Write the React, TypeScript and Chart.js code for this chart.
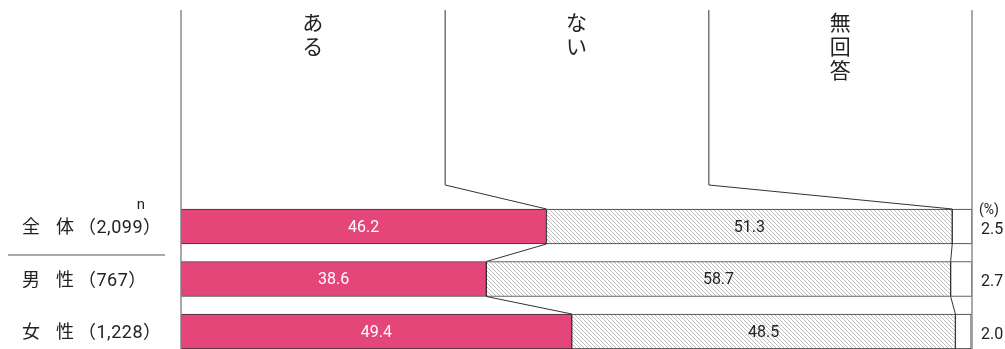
import React, { useEffect, useRef } from "react";
import { Chart, registerables } from "chart.js";

Chart.register(...registerables);

const categories = ["全体", "男性", "女性"];
const categoryChars = [
  ["全", "体"],
  ["男", "性"],
  ["女", "性"],
];
const sampleSizes = ["（2,099）", "（767）", "（1,228）"];
const seriesNames = ["ある", "ない", "無回答"];
const aruValues = [46.2, 38.6, 49.4];
const naiValues = [51.3, 58.7, 48.5];
const noAnswerValues = [2.5, 2.7, 2.0];

const PINK = "#E4467A";
const DARK = "#333333";
const GRAY_LINE = "#8c8c8c";
const NUM_FONT = "Roboto, 'Noto Sans CJK JP', sans-serif";
const JP_FONT = "'Noto Sans CJK JP', sans-serif";

function makeHatch(ctx: CanvasRenderingContext2D) {
  const s = 4;
  const tile = document.createElement("canvas");
  tile.width = s;
  tile.height = s;
  const t = tile.getContext("2d")!;
  t.fillStyle = "#ffffff";
  t.fillRect(0, 0, s, s);
  t.fillStyle = "#bdbdbd";
  for (let i = 0; i < s; i++) t.fillRect(i, i, 1, 1);
  return ctx.createPattern(tile, "repeat");
}

const decorPlugin = {
  id: "decor",
  afterDatasetsDraw(chart: any) {
    const ctx: CanvasRenderingContext2D = chart.ctx;
    const xs = chart.scales.x;
    const left = xs.getPixelForValue(0);
    const right = xs.getPixelForValue(100);
    const m0 = chart.getDatasetMeta(0).data;
    const m1 = chart.getDatasetMeta(1).data;
    const top = (el: any) => el.y - el.height / 2;
    const bot = (el: any) => el.y + el.height / 2;
    const H = chart.height;

    ctx.save();
    // outer vertical lines
    ctx.strokeStyle = GRAY_LINE;
    ctx.lineWidth = 1.5;
    [left, right].forEach((x) => {
      ctx.beginPath();
      ctx.moveTo(x, 10);
      ctx.lineTo(x, H);
      ctx.stroke();
    });

    // header column lines with bends
    const colW = (right - left) / 3;
    const bendY = 185;
    ctx.strokeStyle = DARK;
    ctx.lineWidth = 1;
    [m0, m1].forEach((meta, k) => {
      const cx = left + colW * (k + 1);
      ctx.beginPath();
      ctx.moveTo(cx + 0.5, 10);
      ctx.lineTo(cx + 0.5, bendY);
      ctx.lineTo(meta[0].x, top(meta[0]));
      ctx.stroke();
    });

    // connecting lines between bars
    [m0, m1].forEach((meta) => {
      for (let i = 0; i < meta.length - 1; i++) {
        ctx.beginPath();
        ctx.moveTo(meta[i].x, bot(meta[i]));
        ctx.lineTo(meta[i + 1].x, top(meta[i + 1]));
        ctx.stroke();
      }
    });

    // header vertical labels
    ctx.fillStyle = "#222";
    ctx.font = `21px ${JP_FONT}`;
    ctx.textAlign = "center";
    ctx.textBaseline = "middle";
    seriesNames.forEach((name, k) => {
      const cx = left + colW * (k + 0.5);
      Array.from(name).forEach((ch, j) => {
        ctx.fillText(ch, cx, 22 + j * 24);
      });
    });

    // data labels
    ctx.font = `16px ${NUM_FONT}`;
    m0.forEach((el: any, i: number) => {
      ctx.fillStyle = "#ffffff";
      ctx.fillText(aruValues[i].toFixed(1), (el.x + el.base) / 2, el.y + 1);
    });
    m1.forEach((el: any, i: number) => {
      ctx.fillStyle = "#222";
      ctx.fillText(naiValues[i].toFixed(1), (el.x + el.base) / 2, el.y + 1);
    });

    // right side values
    ctx.textAlign = "left";
    ctx.fillStyle = "#222";
    ctx.font = `14px ${NUM_FONT}`;
    ctx.fillText("(%)", 979, top(m0[0]) + 1);
    ctx.font = `16px ${NUM_FONT}`;
    m0.forEach((el: any, i: number) => {
      ctx.fillText(noAnswerValues[i].toFixed(1), 981, el.y + 3);
    });

    // left category labels
    ctx.font = `18px ${NUM_FONT}`;
    m0.forEach((el: any, i: number) => {
      const y = el.y + 2;
      ctx.textAlign = "center";
      ctx.fillText(categoryChars[i][0], 31, y);
      ctx.fillText(categoryChars[i][1], 65, y);
      ctx.textAlign = "left";
      (ctx as any).letterSpacing = "0.5px";
      ctx.fillText(sampleSizes[i], 78, y);
      (ctx as any).letterSpacing = "0px";
    });
    ctx.textAlign = "center";
    ctx.font = `15px ${NUM_FONT}`;
    ctx.fillText("n", 141, top(m0[0]) - 4);

    // separator under first row
    ctx.strokeStyle = GRAY_LINE;
    ctx.lineWidth = 1.5;
    ctx.beginPath();
    ctx.moveTo(8, 255);
    ctx.lineTo(165, 255);
    ctx.stroke();
    ctx.restore();
  },
};

export default function App() {
  const ref = useRef<HTMLCanvasElement | null>(null);
  useEffect(() => {
    document.body.style.margin = "0";
    const canvas = ref.current!;
    const ctx = canvas.getContext("2d")!;
    const hatch = makeHatch(ctx);
    const common = {
      borderColor: DARK,
      borderWidth: 1,
      borderSkipped: false,
      barThickness: 35,
      clip: false as any,
    };
    const chart = new Chart(ctx, {
      type: "bar",
      data: {
        labels: categories,
        datasets: [
          { label: seriesNames[0], data: aruValues, backgroundColor: PINK, ...common },
          { label: seriesNames[1], data: naiValues, backgroundColor: hatch as any, ...common },
          { label: seriesNames[2], data: noAnswerValues, backgroundColor: "#ffffff", ...common },
        ],
      },
      options: {
        indexAxis: "y",
        animation: false,
        responsive: false,
        maintainAspectRatio: false,
        layout: { padding: { left: 181, right: 33, top: 226.5, bottom: 17.5 } },
        plugins: { legend: { display: false }, tooltip: { enabled: false } },
        scales: {
          x: { stacked: true, min: 0, max: 100, display: false },
          y: { stacked: true, display: false, offset: false },
        },
      },
      plugins: [decorPlugin],
    });
    return () => chart.destroy();
  }, []);
  return (
    <div style={{ width: 1005, height: 349, overflow: "hidden" }}>
      <canvas ref={ref} width={1005} height={349} style={{ display: "block" }} />
    </div>
  );
}
